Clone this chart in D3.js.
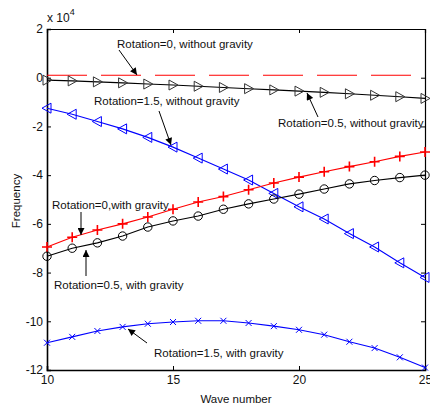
<!DOCTYPE html>
<html><head><meta charset="utf-8">
<script src="https://cdn.jsdelivr.net/npm/d3@7"></script>
<style>body{margin:0;background:#fff}svg{display:block}text{font-family:"Liberation Sans",Arial,sans-serif}</style>
</head><body><svg id="c" width="430" height="410"></svg>
<script>
// Data (frequency in units of 1e4)
const waveNumber = [10,11,12,13,14,15,16,17,18,19,20,21,22,23,24,25];
const rot0NoGrav   = [0.1,0.1,0.1,0.1,0.1,0.1,0.1,0.1,0.1,0.1,0.1,0.1,0.1,0.1,0.1,0.1];
const rot05NoGrav  = [-0.1,-0.13,-0.17,-0.21,-0.26,-0.3,-0.35,-0.4,-0.45,-0.5,-0.55,-0.6,-0.66,-0.72,-0.78,-0.85];
const rot15NoGrav  = [-1.25,-1.5,-1.8,-2.1,-2.45,-2.85,-3.3,-3.75,-4.2,-4.75,-5.3,-5.8,-6.4,-6.95,-7.6,-8.2];
const rot0Grav     = [-6.95,-6.55,-6.25,-6.0,-5.72,-5.4,-5.1,-4.88,-4.6,-4.32,-4.08,-3.86,-3.65,-3.45,-3.23,-3.05];
const rot05Grav    = [-7.33,-7.0,-6.78,-6.5,-6.13,-5.88,-5.68,-5.4,-5.18,-4.98,-4.78,-4.57,-4.36,-4.22,-4.1,-4.0];
const rot15Grav    = [-10.88,-10.64,-10.4,-10.23,-10.1,-10.03,-9.98,-9.98,-10.07,-10.2,-10.35,-10.55,-10.84,-11.1,-11.48,-11.9];
const xTicks = [10,15,20,25];
const yTicks = [-12,-10,-8,-6,-4,-2,0,2];
const xLabel = "Wave number";
const yLabel = "Frequency";
const annotations = [
  {text:"Rotation=0, without gravity", tx:117, ty:48, x1:119, y1:50, x2:137, y2:75},
  {text:"Rotation=1.5, without gravity", tx:94, ty:105, x1:159, y1:111, x2:171, y2:145},
  {text:"Rotation=0.5, without gravity", tx:278, ty:127, x1:318, y1:117, x2:307, y2:93},
  {text:"Rotation=0,with gravity", tx:52, ty:209, x1:81, y1:212, x2:81, y2:235},
  {text:"Rotation=0.5, with gravity", tx:54, ty:289, x1:86, y1:276, x2:86, y2:250},
  {text:"Rotation=1.5, with gravity", tx:154, ty:357, x1:147, y1:343, x2:128, y2:329}
];

const svg = d3.select("#c");
const x = d3.scaleLinear().domain([10,25]).range([47,425]);
const y = d3.scaleLinear().domain([-12,2]).range([370,29]);

// axes box
const fmt = d => String(d).replace("-", "-");
svg.append("g").attr("transform","translate(0,370)")
  .call(d3.axisBottom(x).tickValues(xTicks).tickSize(-4).tickPadding(5).tickFormat(d=>d))
  .call(g=>{g.select(".domain").attr("stroke-width",1.6);g.selectAll("text").attr("font-size",12).attr("fill","#111");});
svg.append("g").attr("transform","translate(47,0)")
  .call(d3.axisLeft(y).tickValues(yTicks).tickSize(-4).tickPadding(4).tickFormat(fmt))
  .call(g=>{g.select(".domain").attr("stroke-width",1.6);g.selectAll("text").attr("font-size",12).attr("fill","#111");});
svg.append("g").attr("transform","translate(0,29)")
  .call(d3.axisTop(x).tickValues(xTicks).tickSize(-4).tickFormat(""))
  .call(g=>g.select(".domain").attr("stroke-width",1.2));
svg.append("g").attr("transform","translate(425,0)")
  .call(d3.axisRight(y).tickValues(yTicks).tickSize(-4).tickFormat(""))
  .call(g=>g.select(".domain").attr("stroke-width",1.2));
svg.selectAll(".domain").attr("stroke","#000");
svg.selectAll(".tick line").attr("stroke","#000");

// exponent
const ex = svg.append("text").attr("x",47).attr("y",22).attr("font-size",12).attr("fill","#111");
ex.append("tspan").text("x 10");
ex.append("tspan").attr("dy",-7).attr("font-size",9).text("4");

// axis titles
svg.append("text").attr("x",236).attr("y",403).attr("text-anchor","middle").attr("font-size",11.5).attr("fill","#111").text(xLabel);
svg.append("text").attr("transform","translate(20,201) rotate(-90)").attr("text-anchor","middle").attr("font-size",11.5).attr("fill","#111").text(yLabel);

const line = d3.line().x((d,i)=>x(waveNumber[i])).y(d=>y(d));
function series(vals,color,dash){
  svg.append("path").datum(vals).attr("d",line).attr("fill","none").attr("stroke",color)
    .attr("stroke-width",1.1).attr("stroke-dasharray",dash||null);
}
series(rot0NoGrav,"#ff0000","40,14");
series(rot05NoGrav,"#000");
series(rot15NoGrav,"#0000ff");
series(rot0Grav,"#ff0000");
series(rot05Grav,"#000");
series(rot15Grav,"#0000ff");

// markers
function markers(vals,color,type){
  const g = svg.append("g").attr("fill","none").attr("stroke",color).attr("stroke-width",1);
  vals.forEach((v,i)=>{
    const cx = x(waveNumber[i]), cy = y(v);
    if(type==="tr") g.append("path").attr("d",`M${cx-4},${cy-5}L${cx+5},${cy}L${cx-4},${cy+5}Z`);
    else if(type==="tl") g.append("path").attr("d",`M${cx+4},${cy-5}L${cx-5},${cy}L${cx+4},${cy+5}Z`);
    else if(type==="o") g.append("circle").attr("cx",cx).attr("cy",cy).attr("r",4.2);
    else if(type==="+") g.append("path").attr("d",`M${cx-5},${cy}H${cx+5}M${cx},${cy-5}V${cy+5}`).attr("stroke-width",1.6);
    else if(type==="x") g.append("path").attr("d",`M${cx-3},${cy-3}L${cx+3},${cy+3}M${cx+3},${cy-3}L${cx-3},${cy+3}`);
  });
}
markers(rot05NoGrav,"#333","tr");
markers(rot15NoGrav,"#0000ff","tl");
markers(rot0Grav,"#ff0000","+");
markers(rot05Grav,"#000","o");
markers(rot15Grav,"#0000ff","x");

// annotations
svg.append("defs").append("marker").attr("id","ah").attr("viewBox","0 0 10 10").attr("refX",10).attr("refY",5)
  .attr("markerWidth",9).attr("markerHeight",7).attr("markerUnits","userSpaceOnUse").attr("orient","auto")
  .append("path").attr("d","M0,0L10,5L0,10Z").attr("fill","#000");
annotations.forEach(a=>{
  svg.append("text").attr("x",a.tx).attr("y",a.ty).attr("font-size",11.5).attr("fill","#111").text(a.text);
  svg.append("line").attr("x1",a.x1).attr("y1",a.y1).attr("x2",a.x2).attr("y2",a.y2)
    .attr("stroke","#000").attr("stroke-width",1).attr("marker-end","url(#ah)");
});
</script></body></html>
